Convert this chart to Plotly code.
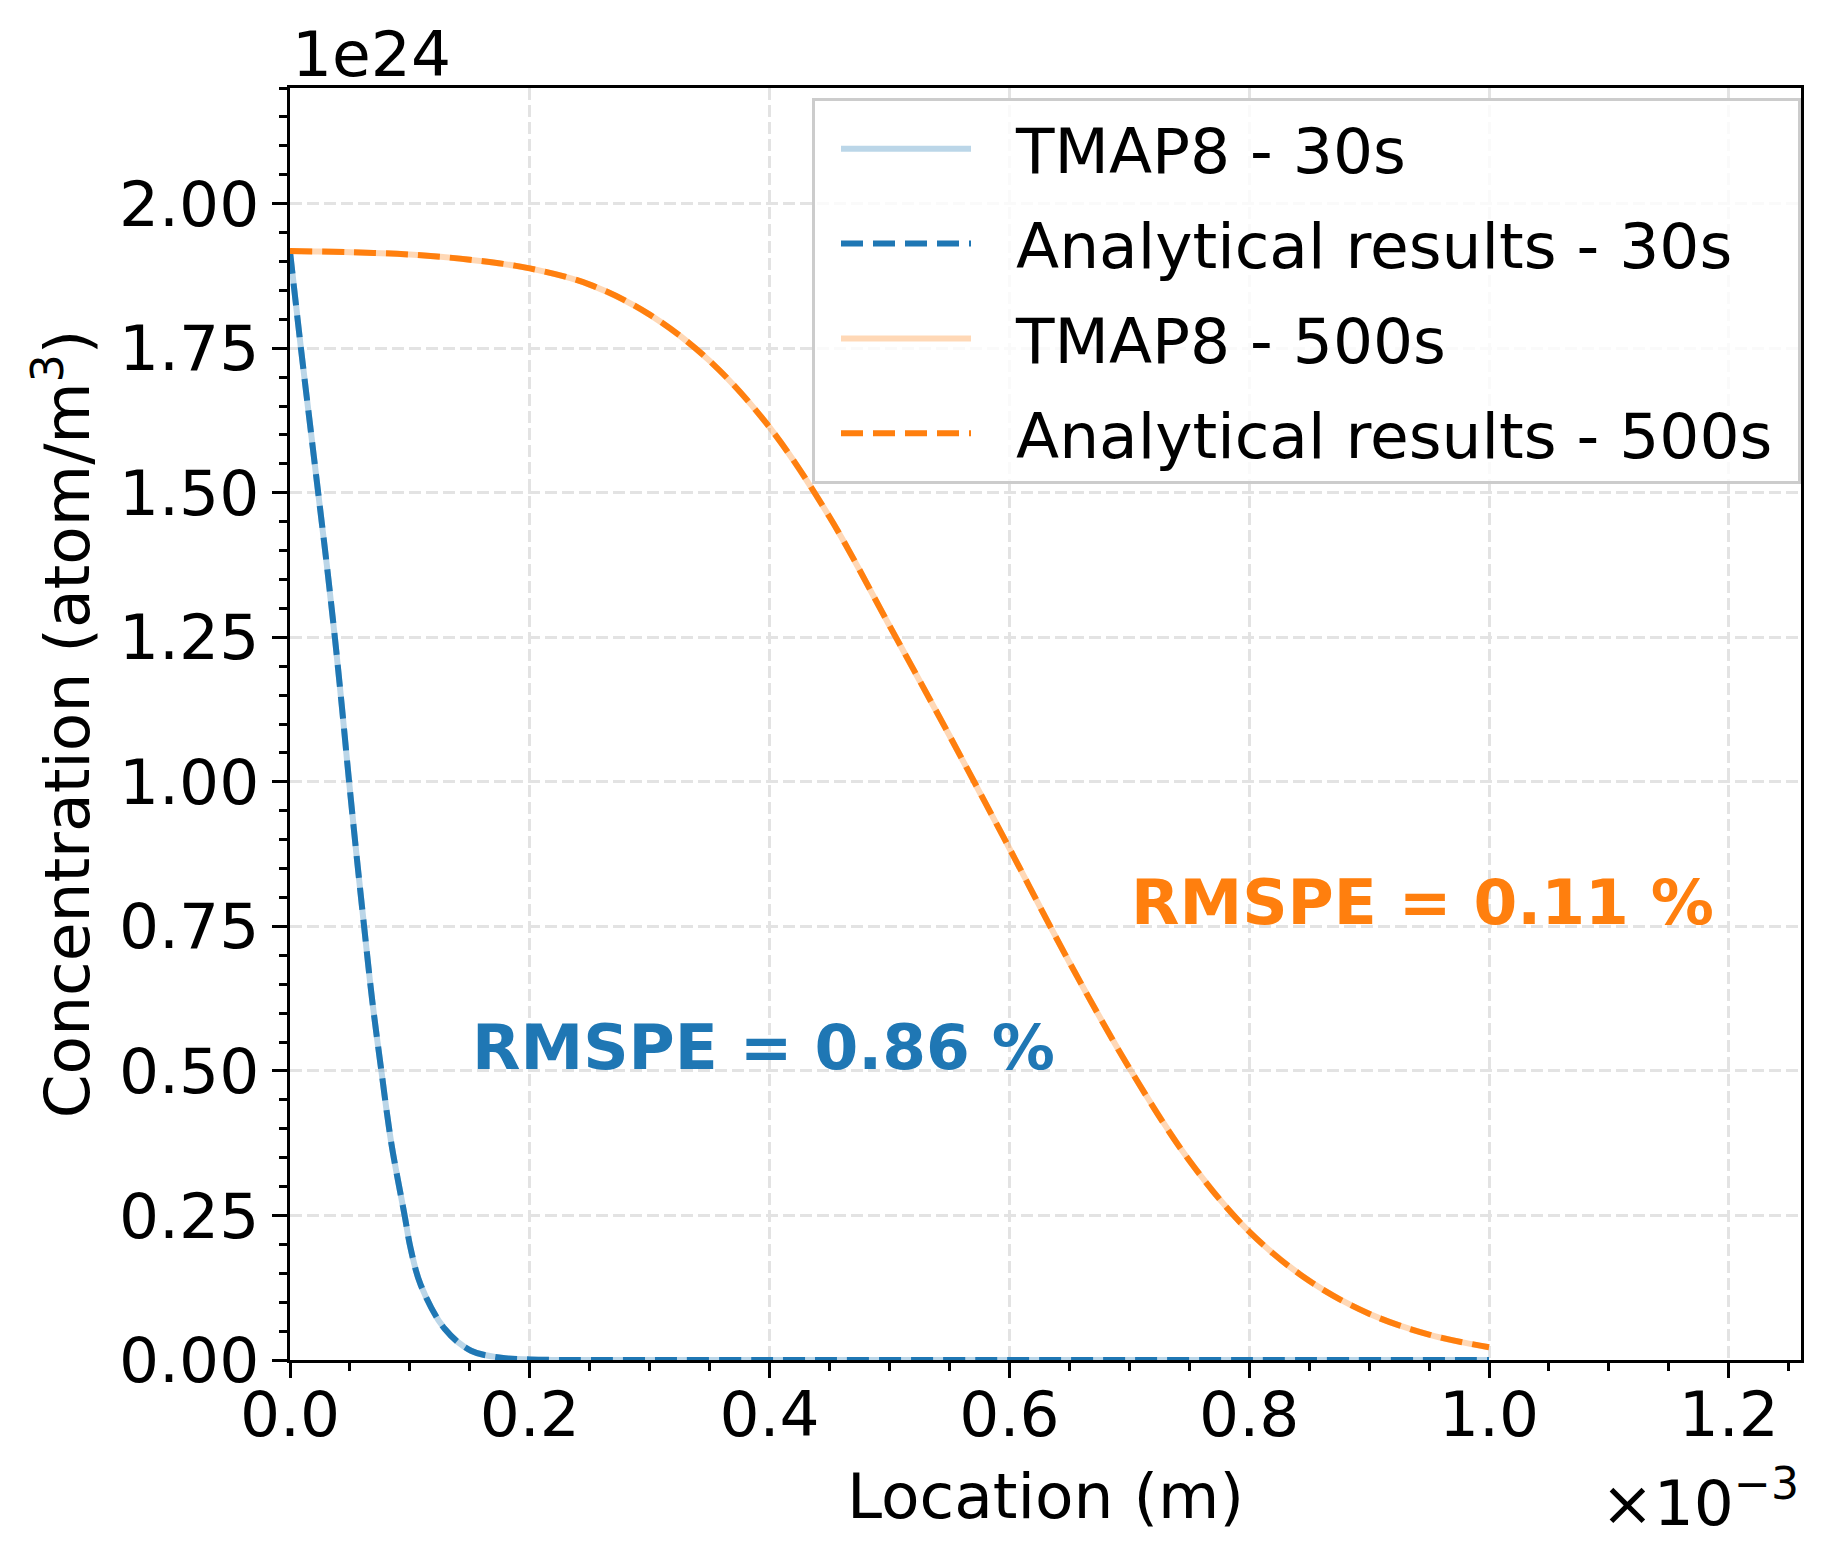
import plotly.graph_objects as go

# ---- data (x in units of 1e-3 m, concentration in units of 1e24 atom/m^3) ----
x_30s = [0.0, 0.0091, 0.0163, 0.0235, 0.0307, 0.0374, 0.0435, 0.0493, 0.0554, 0.0618,
         0.0684, 0.0762, 0.0845, 0.0956, 0.1006, 0.109, 0.129, 0.151, 0.176, 0.2, 0.25,
         0.4, 0.6, 0.8, 1.0]
c_30s = [1.917, 1.75, 1.625, 1.5, 1.375, 1.25, 1.125, 1.0, 0.875, 0.75,
         0.625, 0.5, 0.375, 0.25, 0.193, 0.13, 0.054, 0.016, 0.004, 0.001, 0.0,
         0.0, 0.0, 0.0, 0.0]

x_500s = [0.0, 0.05, 0.1, 0.15, 0.2, 0.25, 0.3, 0.35, 0.4, 0.45, 0.5, 0.55,
          0.6, 0.65, 0.7, 0.75, 0.8, 0.85, 0.9, 0.95, 1.0]
c_500s = [1.918, 1.916, 1.912, 1.903, 1.888, 1.86, 1.808, 1.728, 1.613, 1.458, 1.270, 1.080,
          0.885, 0.688, 0.505, 0.345, 0.222, 0.137, 0.080, 0.044, 0.022]

series_names = ["TMAP8 - 30s", "Analytical results - 30s",
                "TMAP8 - 500s", "Analytical results - 500s"]
rmspe_labels = ["RMSPE = 0.86 %", "RMSPE = 0.11 %"]
rmspe_pos = [(0.15, 0.5), (0.7, 0.75)]

BLUE = "#1f77b4"
ORANGE = "#ff7f0e"
FONT = "DejaVu Sans"
FS = 63
LW = 6
DASH = "22px,10px"
PAD = "\u00a0\u00a0"
TAIL = "\u00a0"

fig = go.Figure()
trace_specs = [
    (x_30s, c_30s, "rgba(31,119,180,0.3)", "solid"),
    (x_30s, c_30s, BLUE, DASH),
    (x_500s, c_500s, "rgba(255,127,14,0.3)", "solid"),
    (x_500s, c_500s, ORANGE, DASH),
]
for i, (xs, ys, col, dash) in enumerate(trace_specs):
    fig.add_trace(go.Scatter(
        x=xs, y=ys, mode="lines", name=PAD + series_names[i] + TAIL, legendgroup="g%d" % i,
        line=dict(color=col, width=LW, dash=dash, shape="spline", smoothing=1.0)))

grid = dict(showgrid=True, gridcolor="#e3e3e3", gridwidth=3, griddash="12px,5px")
axis_common = dict(
    showline=True, linecolor="black", linewidth=3.3, mirror=True,
    ticks="outside", ticklen=15, tickwidth=3.3, tickcolor="black",
    tickfont=dict(family=FONT, size=FS, color="black"),
    zeroline=False, **grid,
)

fig.update_xaxes(
    range=[0, 1.2602], tick0=0, dtick=0.2, tickformat=".1f", ticklabelstandoff=-18,
    minor=dict(ticks="outside", dtick=0.05, tick0=0, ticklen=8, tickwidth=2.5,
               tickcolor="black", showgrid=False),
    title=dict(text="Location (m)", font=dict(family=FONT, size=FS, color="black"), standoff=25),
    **axis_common,
)
fig.update_yaxes(
    range=[0, 2.2], tick0=0, dtick=0.25, tickformat=".2f",
    minor=dict(ticks="outside", dtick=0.05, tick0=0, ticklen=8, tickwidth=2.5,
               tickcolor="black", showgrid=False),
    title=dict(text="Concentration (atom/m<sup>3</sup>)",
               font=dict(family=FONT, size=FS, color="black"), standoff=9),
    **axis_common,
)

annotations = []
for (tx, ty), txt, col in zip(rmspe_pos, rmspe_labels, [BLUE, ORANGE]):
    annotations.append(dict(x=tx, y=ty, xref="x", yref="y", text="<b>" + txt + "</b>",
                            showarrow=False, xanchor="left", yanchor="bottom", yshift=-15,
                            font=dict(family=FONT, size=FS, color=col)))
annotations.append(dict(x=0, y=1, xref="paper", yref="paper", text="1e24", showarrow=False,
                        xanchor="left", yanchor="bottom", yshift=-5,
                        font=dict(family=FONT, size=FS, color="black")))
annotations.append(dict(x=1, y=0, xref="paper", yref="paper", text="×10<sup>−3</sup>",
                        showarrow=False, xanchor="right", yanchor="bottom", yshift=-182,
                        font=dict(family=FONT, size=FS, color="black")))

fig.update_layout(
    width=1834, height=1568,
    margin=dict(l=290, r=33, t=88, b=208),
    paper_bgcolor="white", plot_bgcolor="white",
    font=dict(family=FONT, size=FS, color="black"),
    showlegend=True,
    legend=dict(x=1.0, y=0.992, xanchor="right", yanchor="top",
                bgcolor="rgba(255,255,255,0.8)", bordercolor="#cccccc", borderwidth=3,
                font=dict(family=FONT, size=FS, color="black"), itemwidth=130,
                tracegroupgap=10, indentation=21),
    annotations=annotations,
)

fig.write_html("out.html")
